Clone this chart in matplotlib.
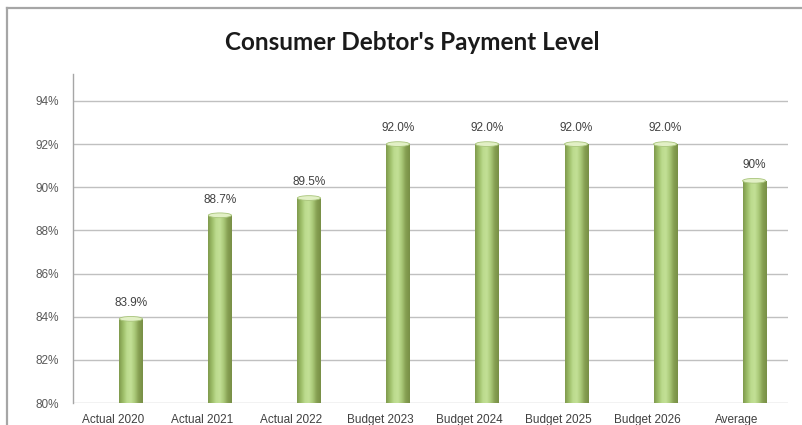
import numpy as np
import matplotlib
matplotlib.use("Agg")
import matplotlib.pyplot as plt
from matplotlib.patches import Rectangle, Ellipse
from matplotlib.colors import LinearSegmentedColormap

categories = ["Actual 2020", "Actual 2021", "Actual 2022", "Budget 2023",
              "Budget 2024", "Budget 2025", "Budget 2026", "Average"]
values = [0.839, 0.887, 0.895, 0.920, 0.920, 0.920, 0.920, 0.903]
value_labels = ["83.9%", "88.7%", "89.5%", "92.0%", "92.0%", "92.0%", "92.0%", "90%"]
y_ticks = [0.80, 0.82, 0.84, 0.86, 0.88, 0.90, 0.92, 0.94]
y_tick_labels = ["80%", "82%", "84%", "86%", "88%", "90%", "92%", "94%"]

title = "Consumer Debtor's Payment Level"

fig = plt.figure(figsize=(8.02, 4.25), dpi=100)
fig.patch.set_facecolor("white")

# chart border
fig.add_artist(plt.Line2D([7 / 802, 7 / 802], [0, 1 - 8 / 425], transform=fig.transFigure,
                          color="#a6a6a6", lw=1.6))
fig.add_artist(plt.Line2D([7 / 802, 1], [1 - 8 / 425, 1 - 8 / 425], transform=fig.transFigure,
                          color="#a6a6a6", lw=1.6))

ax = fig.add_axes([73 / 802, 22 / 425, (788 - 73) / 802, (403 - 74) / 425])
ax.set_xlim(-0.45, 7.58)
ax.set_ylim(0.80, 0.9525)

for s in ["top", "right", "bottom"]:
    ax.spines[s].set_visible(False)
ax.spines["left"].set_color("#a6a6a6")
ax.spines["left"].set_linewidth(1.0)

ax.set_yticks(y_ticks)
ax.set_yticklabels(y_tick_labels, fontsize=8.5, color="#595959", family="Liberation Sans")
ax.yaxis.grid(True, color="#c0c0c0", lw=1.0)
ax.set_axisbelow(True)
ax.tick_params(axis="y", length=0, pad=10)

x = np.arange(len(categories))
ax.set_xticks(x)
ax.set_xticklabels(categories, fontsize=8.5, color="#404040", family="Liberation Sans")
ax.tick_params(axis="x", length=0, pad=8)

bar_w = 0.26
shift = 0.2
cyl = LinearSegmentedColormap.from_list(
    "cyl", ["#7f9a4c", "#9dbd68", "#bcdb8e", "#c3e096", "#a9c877", "#869f52", "#788f46"])
grad = np.linspace(0, 1, 64).reshape(1, -1)

for xi, v, lab in zip(x, values, value_labels):
    x0 = xi + shift - bar_w / 2
    x1 = xi + shift + bar_w / 2
    rect = Rectangle((x0, 0.80), bar_w, v - 0.80, transform=ax.transData,
                     facecolor="none", edgecolor="none")
    ax.add_patch(rect)
    im = ax.imshow(grad, cmap=cyl, aspect="auto", extent=[x0, x1, 0.80, v],
                   interpolation="bicubic", zorder=3)
    im.set_clip_path(rect)
    ax.add_patch(Ellipse((xi + shift, v), bar_w, 0.0022, facecolor="#e2f0c6",
                         edgecolor="#a8c47a", lw=0.6, zorder=4))
    ax.text(xi + shift, v + 0.0045, lab, ha="center", va="bottom", fontsize=8.5,
            color="#404040", family="Liberation Sans", zorder=5)

fig.text(412 / 802, 1 - 43 / 425, title, ha="center", va="center", fontsize=17.5,
         fontweight="bold", color="#1a1a1a", family="Lato")

fig.savefig("out.png", dpi=100, facecolor="white")
